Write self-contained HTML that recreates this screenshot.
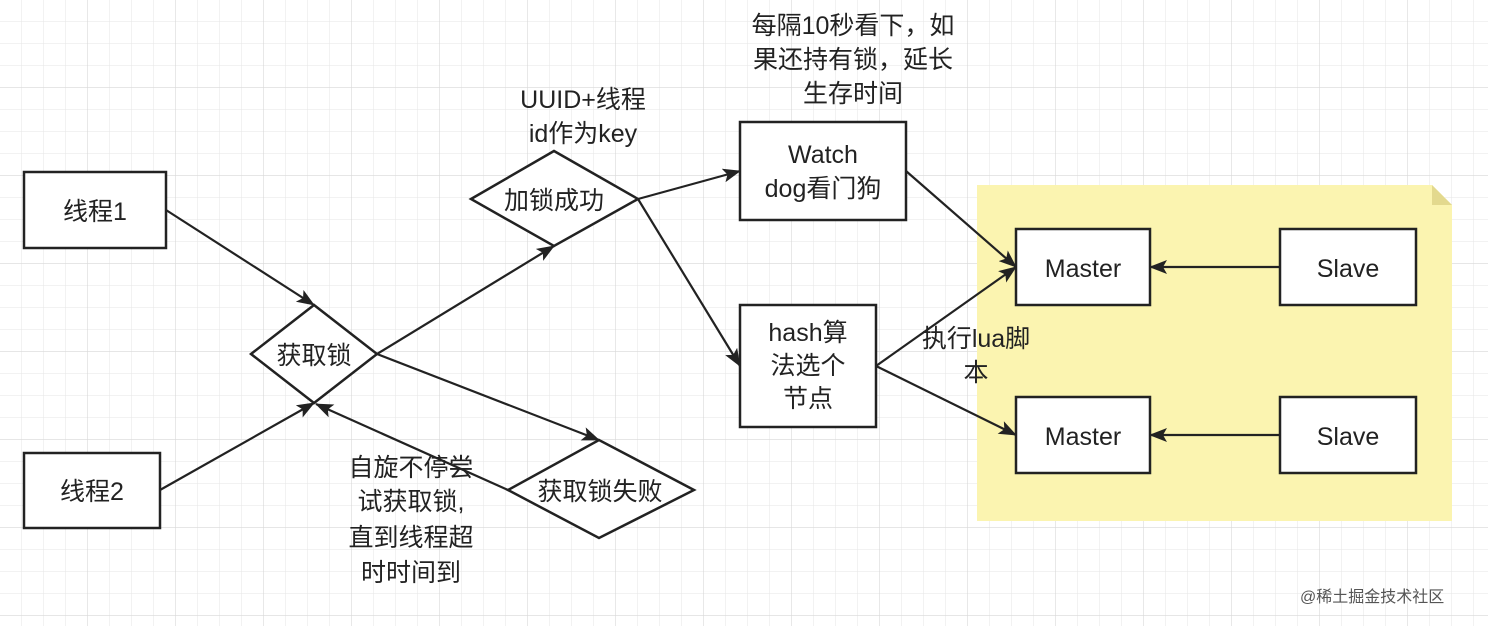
<!DOCTYPE html>
<html><head><meta charset="utf-8"><style>
html,body{margin:0;padding:0;background:#fff}
svg{display:block}
text{font-family:"Liberation Sans","Noto Sans CJK SC",sans-serif;font-size:25px;fill:#222}
</style></head><body>
<svg width="1488" height="626" viewBox="0 0 1488 626" xmlns="http://www.w3.org/2000/svg">
<defs>
<pattern id="g" width="22" height="22" patternUnits="userSpaceOnUse" x="0" y="0">
<path d="M22 0V22M0 22H22" stroke="#e6e6e6" stroke-width="1" fill="none"/>
</pattern>
<pattern id="G" width="88" height="88" patternUnits="userSpaceOnUse" x="0" y="0">
<rect width="88" height="88" fill="url(#g)"/>
<path d="M88 0V88M0 88H88" stroke="#d8d8d8" stroke-width="1.2" fill="none"/>
</pattern>
<marker id="b" markerWidth="18" markerHeight="14" refX="17" refY="7" orient="auto" markerUnits="userSpaceOnUse" viewBox="0 0 18 14">
<path d="M0 0L18 7L0 14L4 7Z" fill="#222"/>
</marker>
</defs>
<rect width="1488" height="626" fill="url(#G)"/>
<path d="M977 185H1432L1452 205V521H977Z" fill="#fbf4b0"/>
<path d="M1432 185L1452 205H1432Z" fill="#e3d98e"/>
<g stroke="#222" stroke-width="2.5" fill="#fff">
<rect x="24" y="172" width="142" height="76"/>
<rect x="24" y="453" width="136" height="75"/>
<polygon points="251,354 314,305 377,354 314,403"/>
<polygon points="471,199 554,151 638,199 554,246"/>
<polygon points="508,490 599,440 694,490 599,538"/>
<rect x="740" y="122" width="166" height="98"/>
<rect x="740" y="305" width="136" height="122"/>
<rect x="1016" y="229" width="134" height="76"/>
<rect x="1280" y="229" width="136" height="76"/>
<rect x="1016" y="397" width="134" height="76"/>
<rect x="1280" y="397" width="136" height="76"/>
</g>
<g stroke="#222" stroke-width="2.2" fill="none" marker-end="url(#b)">
<line x1="166" y1="210" x2="314" y2="305"/>
<line x1="160" y1="490" x2="314" y2="403"/>
<line x1="377" y1="354" x2="554" y2="246"/>
<line x1="377" y1="354" x2="599" y2="440"/>
<line x1="508" y1="490" x2="316" y2="404"/>
<line x1="638" y1="199" x2="740" y2="171"/>
<line x1="638" y1="199" x2="740" y2="366"/>
<line x1="906" y1="171" x2="1016" y2="267"/>
<line x1="876" y1="366" x2="1016" y2="267"/>
<line x1="876" y1="366" x2="1016" y2="435"/>
<line x1="1280" y1="267" x2="1150" y2="267"/>
<line x1="1280" y1="435" x2="1150" y2="435"/>
</g>
<g text-anchor="middle">
<text x="95" y="220">线程1</text>
<text x="92" y="500">线程2</text>
<text x="314" y="364">获取锁</text>
<text x="554" y="209">加锁成功</text>
<text x="600" y="500">获取锁失败</text>
<text x="823" y="163">Watch</text>
<text x="823" y="197">dog看门狗</text>
<text x="808" y="341">hash算</text>
<text x="808" y="374">法选个</text>
<text x="808" y="407">节点</text>
<text x="1083" y="277">Master</text>
<text x="1348" y="277">Slave</text>
<text x="1083" y="445">Master</text>
<text x="1348" y="445">Slave</text>
<text x="583" y="108">UUID+线程</text>
<text x="583" y="142">id作为key</text>
<text x="853" y="34">每隔10秒看下，如</text>
<text x="853" y="68">果还持有锁，延长</text>
<text x="853" y="102">生存时间</text>
<text x="976" y="347">执行lua脚</text>
<text x="976" y="381">本</text>
<text x="411" y="476">自旋不停尝</text>
<text x="411" y="510">试获取锁,</text>
<text x="411" y="546">直到线程超</text>
<text x="411" y="581">时时间到</text>
</g>
<text x="1300" y="602" style="font-size:16px;fill:#555">@稀土掘金技术社区</text>
</svg>
</body></html>
